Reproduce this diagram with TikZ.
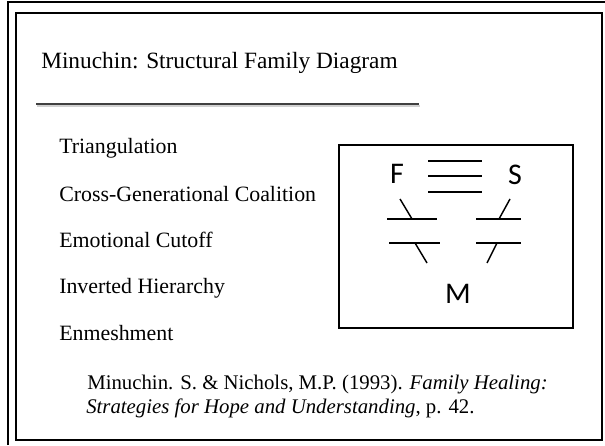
\documentclass[tikz,border=0pt]{standalone}
\usepackage{fontspec}
\setmainfont{Liberation Serif}
\newfontfamily\diagfont{Carlito}
\tikzset{
	topic/.style={anchor=base west, inner sep=0pt, font=\fontsize{16.4}{20}\selectfont},
	citation/.style={anchor=base west, inner sep=0pt, font=\fontsize{15.6}{19}\selectfont},
	member/.style={anchor=base, inner sep=0pt, font=\diagfont\fontsize{22.5}{26}\selectfont},
	bar/.style={line width=1.1pt}
}
\begin{document}
\begin{tikzpicture}[x=0.75pt,y=-0.75pt]
		\useasboundingbox (0, 0) rectangle (605, 445);
		
		% slide frame
		\draw[line width=1.6pt] (8, 445) -- (8, 2) -- (605, 2);
		\draw[line width=1pt] (16, 13) rectangle (602, 440);
		
		% title
		\node[anchor=base west, inner sep=0pt, font=\fontsize{17.5}{21}\selectfont] (title) at (41, 69) {Minuchin: Structural Family Diagram};
		\draw[line width=2pt, color=black!18] (37, 106) -- (420, 106);
		\draw[line width=0.9pt, color=black!75] (36, 104) -- (419, 104);
		
		% topics
		\node[topic] (tri) at (59, 154) {Triangulation};
		\node[topic] (cross) at (59, 201) {Cross-Generational Coalition};
		\node[topic] (cut) at (59, 247) {Emotional Cutoff};
		\node[topic] (inv) at (59, 293) {Inverted Hierarchy};
		\node[topic] (enm) at (59, 340) {Enmeshment};
		
		% reference
		\node[citation] (ref1) at (87, 389) {Minuchin. S. \& Nichols, M.P. (1993). \textit{Family Healing:}};
		\node[citation] (ref2) at (86, 413) {\textit{Strategies for Hope and Understanding}, p. 42.};
		
		% family diagram
		\draw[line width=1.5pt] (339, 145) rectangle (573, 328);
		\node[member] (F) at (397, 183) {F};
		\node[member] (S) at (515, 184) {S};
		\node[member] (M) at (458, 303) {M};
		
		% enmeshed boundary between F and S
		\foreach \y in {161, 176, 192}
			\draw[bar] (428, \y) -- (482, \y);
		
		% boundaries towards M
		\draw[bar] (387, 219) -- (437, 219);
		\draw[bar] (400, 199) -- (412, 219);
		\draw[bar] (389, 243) -- (440, 243);
		\draw[bar] (415, 243) -- (427, 263);
		\draw[bar] (476, 219) -- (521, 219);
		\draw[bar] (510, 199) -- (499, 219);
		\draw[bar] (476, 243) -- (521, 243);
		\draw[bar] (497, 243) -- (487, 263);
		
	\end{tikzpicture}
\end{document}
